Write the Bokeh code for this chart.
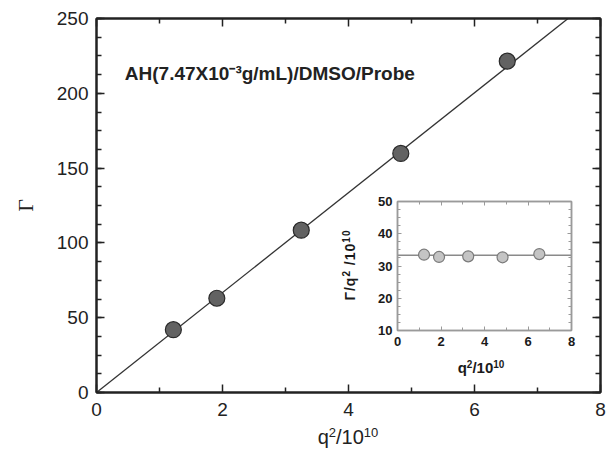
from bokeh.plotting import figure
from bokeh.models import Label, LinearAxis, Range1d, FixedTicker, Div
from bokeh.layouts import column
from bokeh.embed import file_html
from bokeh.resources import INLINE

# ---- data ----
q2 = [1.22, 1.91, 3.25, 4.83, 6.52]
gamma = [42.0, 63.0, 108.5, 159.8, 221.5]
gamma_over_q2 = [33.5, 32.8, 33.0, 32.7, 33.7]
fit_slope = 33.4
fit_x = [0, 8]
fit_y = [0, 8 * fit_slope]
inset_line_x = [0, 8]
inset_line_y = [33.3, 33.3]
title_text = "AH(7.47X10\u207b\u00b3g/mL)/DMSO/Probe"

SANS = "Liberation Sans"

# ---- main figure ----
p = figure(width=613, height=455, x_range=Range1d(0, 8), y_range=Range1d(0, 250),
           output_backend="svg", toolbar_location=None,
           min_border_left=96, min_border_right=13, min_border_top=18, min_border_bottom=63)
p.xgrid.visible = False
p.ygrid.visible = False
p.outline_line_color = "#222222"
p.outline_line_width = 2

p.line(fit_x, fit_y, line_color="#333333", line_width=1.3)
p.scatter(q2, gamma, size=16, fill_color="#626262", line_color="#2a2a2a", line_width=1.2)

def style_axis(ax, show_labels=True, major_in=8, minor_in=5, color="#222222", width=1.5):
    ax.major_tick_in = major_in
    ax.major_tick_out = 0
    ax.minor_tick_in = minor_in
    ax.minor_tick_out = 0
    ax.major_tick_line_color = color
    ax.minor_tick_line_color = color
    ax.major_tick_line_width = width
    ax.minor_tick_line_width = width
    ax.axis_line_color = color
    ax.axis_line_width = 2
    if not show_labels:
        ax.major_label_text_font_size = "0px"
        ax.major_label_text_alpha = 0

xticks = FixedTicker(ticks=[0, 2, 4, 6, 8], minor_ticks=[1, 3, 5, 7])
yticks = FixedTicker(ticks=[0, 50, 100, 150, 200, 250],
                     minor_ticks=[12.5 * i for i in range(21)])

xa = p.xaxis[0]
xa.ticker = xticks
style_axis(xa)
xa.major_label_text_font = SANS
xa.major_label_text_font_size = "19px"
xa.major_label_text_color = "#222222"
xa.major_label_standoff = 10

ya = p.yaxis[0]
ya.ticker = yticks
style_axis(ya)
ya.major_label_text_font = SANS
ya.major_label_text_font_size = "19px"
ya.major_label_text_color = "#222222"
ya.major_label_standoff = 8
ya.axis_label = "\u0393"
ya.axis_label_text_font = "Liberation Serif"
ya.axis_label_text_font_style = "normal"
ya.axis_label_text_font_size = "22px"
ya.axis_label_text_color = "#222222"
ya.axis_label_standoff = 16

top = LinearAxis(ticker=xticks)
style_axis(top, show_labels=False)
p.add_layout(top, "above")
right = LinearAxis(ticker=yticks)
style_axis(right, show_labels=False)
p.add_layout(right, "right")

p.add_layout(Label(x=0.45, y=213, text=title_text, text_font=SANS, text_font_style="bold",
                   text_font_size="19px", text_color="#222222", text_baseline="alphabetic"))

# ---- inset ----
inset = figure(width=283, height=200, x_range=Range1d(0, 8), y_range=Range1d(10, 50),
               output_backend="svg", toolbar_location=None,
               min_border_left=96, min_border_right=13, min_border_top=11, min_border_bottom=60,
               background_fill_alpha=0, border_fill_alpha=0)
inset.xgrid.visible = False
inset.ygrid.visible = False
inset.outline_line_color = "#9a9a9a"
inset.outline_line_width = 1.5

inset.line(inset_line_x, inset_line_y, line_color="#8a8a8a", line_width=1.5)
inset.scatter(q2, gamma_over_q2, size=11, fill_color="#c4c4c4", line_color="#7a7a7a", line_width=1.2)

ixt = FixedTicker(ticks=[0, 2, 4, 6, 8], minor_ticks=[1, 3, 5, 7])
iyt = FixedTicker(ticks=[10, 20, 30, 40, 50], minor_ticks=[10 + 2.5 * i for i in range(17)])

for ax in [inset.xaxis[0], inset.yaxis[0]]:
    style_axis(ax, major_in=4, minor_in=3, color="#9a9a9a", width=1)
    ax.axis_line_width = 1.5
    ax.major_label_text_font = SANS
    ax.major_label_text_font_style = "bold"
    ax.major_label_text_font_size = "13px"
    ax.major_label_text_color = "#1a1a1a"
inset.xaxis[0].ticker = ixt
inset.yaxis[0].ticker = iyt
inset.xaxis[0].major_label_standoff = 6
inset.yaxis[0].major_label_standoff = 5

itop = LinearAxis(ticker=ixt)
style_axis(itop, show_labels=False, major_in=4, minor_in=3, color="#9a9a9a", width=1)
itop.axis_line_width = 1.5
inset.add_layout(itop, "above")
iright = LinearAxis(ticker=iyt)
style_axis(iright, show_labels=False, major_in=4, minor_in=3, color="#9a9a9a", width=1)
iright.axis_line_width = 1.5
inset.add_layout(iright, "right")

inset.styles = {"position": "absolute", "left": "301px", "top": "190px"}

# ---- axis titles with real superscripts (HTML text) ----
def sup(t, size, shift):
    return f'<span style="font-size:{size}px;position:relative;top:-{shift}px">{t}</span>'

def text_div(html, left, top, width, height, size, bold=False, rotate=False, color="#222222",
             spacing=0):
    st = {"position": "absolute", "left": f"{left}px", "top": f"{top}px",
          "font-family": SANS, "font-size": f"{size}px", "line-height": f"{height}px",
          "font-weight": "bold" if bold else "normal", "color": color,
          "text-align": "center", "white-space": "nowrap",
          "letter-spacing": f"{spacing}px"}
    if rotate:
        st["transform"] = "rotate(-90deg)"
        st["transform-origin"] = "50% 50%"
    return Div(text=html, width=width, height=height, margin=0, styles=st)

xlabel_main = text_div("q" + sup("2", 13, 7) + "/10" + sup("10", 13, 7),
                       298, 425, 100, 24, 20)
xlabel_inset = text_div("q" + sup("2", 10, 5) + "/10" + sup("10", 10, 5),
                        436, 359, 90, 18, 15, bold=True, color="#1a1a1a")
ylabel_inset = text_div("\u0393/q" + sup("2", 10, 5) + " /10" + sup("10", 10, 5),
                        305, 256, 90, 18, 14, bold=True, rotate=True, color="#1a1a1a",
                        spacing=1)

layout = column(p, inset, xlabel_main, xlabel_inset, ylabel_inset, styles={"position": "relative"})
layout.width = 613
layout.height = 455

open("out.html", "w").write(file_html(layout, INLINE))
